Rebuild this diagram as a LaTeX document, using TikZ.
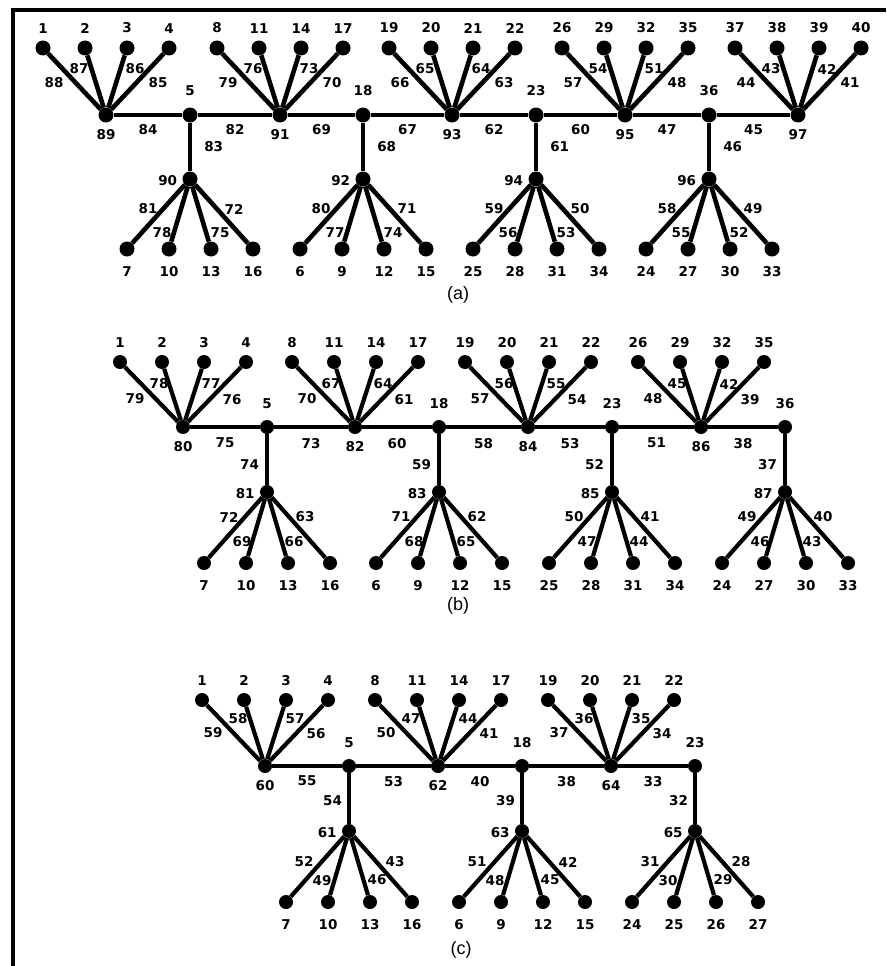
\documentclass[tikz,border=0pt]{standalone}
\usepackage{fontspec}
\setmainfont{Liberation Sans}
\newfontfamily\numfont{DejaVu Sans}
\usetikzlibrary{positioning}

\begin{document}
\begin{tikzpicture}[x=1pt, y=-1pt,
	  dot/.style={circle, fill=black, inner sep=0pt, minimum size=15pt},
	  edge/.style={line width=4.6pt},
	  num/.style={font=\numfont\bfseries\fontsize{13.5}{14}\selectfont, inner sep=0pt},
	  caption/.style={font=\fontsize{18}{19}\selectfont, inner sep=0pt},
	  tag n/.style={label={[num, label distance=7pt]above:#1}},
	  tag s/.style={label={[num, label distance=7pt]below:#1}},
	  tag j/.style={label={[num, label distance=11pt]above:#1}},
	  tag w/.style={label={[num, label distance=5pt, yshift=-2pt]left:#1}},
	  tag b/.style={label={[num, label distance=10pt]below:#1}}
	]

	\useasboundingbox (0,0) rectangle (886,966);
	\draw[line width=3.5pt] (13,966) |- (886,10);

	% (a)
	\foreach \h/\x/\la/\lb/\lc/\ld/\ea/\eb/\ec/\ed in {89/106/1/2/3/4/88/87/86/85, 91/280/8/11/14/17/79/76/73/70, 93/452/19/20/21/22/66/65/64/63, 95/625/26/29/32/35/57/54/51/48, 97/798/37/38/39/40/44/43/42/41}{
		\node[dot, tag s=\h] (a\h) at (\x,115) {};
		\foreach \dx/\l/\e/\ex/\ey in {-63/\la/\ea/-52/-32, -21/\lb/\eb/-27/-46, 21/\lc/\ec/29/-46, 63/\ld/\ed/52/-32}{
			\node[dot, tag n=\l] (a\l) at ({\x+(\dx)},48) {};
			\draw[edge] (a\h) -- (a\l);
			\node[num] (ae\e) at ({\x+(\ex)},{115+(\ey)}) {\e};
		}
	}
	\foreach \j/\h/\x/\la/\lb/\lc/\ld/\ea/\eb/\ec/\ed/\v in {5/90/190/7/10/13/16/81/78/75/72/83, 18/92/363/6/9/12/15/80/77/74/71/68, 23/94/536/25/28/31/34/59/56/53/50/61, 36/96/709/24/27/30/33/58/55/52/49/46}{
		\node[dot, tag j=\j] (a\j) at (\x,115) {};
		\node[dot, tag w=\h] (a\h) at (\x,179) {};
		\draw[edge] (a\j) -- node[num, right=12pt] (ae\v) {\v} (a\h);
		\foreach \dx/\l/\e/\ex/\ey in {-63/\la/\ea/-42/30, -21/\lb/\eb/-28/54, 21/\lc/\ec/30/54, 63/\ld/\ed/44/30}{
			\node[dot, tag b=\l] (a\l) at ({\x+(\dx)},249) {};
			\draw[edge] (a\h) -- (a\l);
			\node[num] (ae\e) at ({\x+(\ex)},{179+(\ey)}) {\e};
		}
	}
	\foreach \p/\q/\e in {89/5/84, 5/91/82, 91/18/69, 18/93/67, 93/23/62, 23/95/60, 95/36/47, 36/97/45}
		\draw[edge] (a\p) -- node[num, below=7pt] (ae\e) {\e} (a\q);
	\node[caption] (capa) at (458,295) {(a)};

	% (b)
	\begin{scope}[dot/.append style={minimum size=14pt}, edge/.append style={line width=4.2pt}]
	\foreach \h/\x/\la/\lb/\lc/\ld/\ea/\eb/\ec/\ed in {80/183/1/2/3/4/79/78/77/76, 82/355/8/11/14/17/70/67/64/61, 84/528/19/20/21/22/57/56/55/54, 86/701/26/29/32/35/48/45/42/39}{
		\node[dot, tag s=\h] (b\h) at (\x,427) {};
		\foreach \dx/\l/\e/\ex/\ey in {-63/\la/\ea/-48/-28, -21/\lb/\eb/-24/-43, 21/\lc/\ec/28/-43, 63/\ld/\ed/49/-27}{
			\node[dot, tag n=\l] (b\l) at ({\x+(\dx)},362) {};
			\draw[edge] (b\h) -- (b\l);
			\node[num] (be\e) at ({\x+(\ex)},{427+(\ey)}) {\e};
		}
	}
	\foreach \j/\h/\x/\la/\lb/\lc/\ld/\ea/\eb/\ec/\ed/\v in {5/81/267/7/10/13/16/72/69/66/63/74, 18/83/439/6/9/12/15/71/68/65/62/59, 23/85/612/25/28/31/34/50/47/44/41/52, 36/87/785/24/27/30/33/49/46/43/40/37}{
		\node[dot, tag j=\j] (b\j) at (\x,427) {};
		\node[dot, tag w=\h] (b\h) at (\x,492) {};
		\draw[edge] (b\j) -- node[num, pos=0.6, left=6pt] (be\v) {\v} (b\h);
		\foreach \dx/\l/\e/\ex/\ey in {-63/\la/\ea/-38/25, -21/\lb/\eb/-25/50, 21/\lc/\ec/27/50, 63/\ld/\ed/38/25}{
			\node[dot, tag b=\l] (b\l) at ({\x+(\dx)},563) {};
			\draw[edge] (b\h) -- (b\l);
			\node[num] (be\e) at ({\x+(\ex)},{492+(\ey)}) {\e};
		}
	}
	\foreach \p/\q/\e in {80/5/75, 5/82/73, 82/18/60, 18/84/58, 84/23/53, 23/86/51, 86/36/38}
		\draw[edge] (b\p) -- node[num, below=9pt] (be\e) {\e} (b\q);
	\node[caption] (capb) at (458,606) {(b)};

	% (c)
	\foreach \h/\x/\la/\lb/\lc/\ld/\ea/\eb/\ec/\ed in {60/265/1/2/3/4/59/58/57/56, 62/438/8/11/14/17/50/47/44/41, 64/611/19/20/21/22/37/36/35/34}{
		\node[dot, tag s=\h] (c\h) at (\x,766) {};
		\foreach \dx/\l/\e/\ex/\ey in {-63/\la/\ea/-52/-33, -21/\lb/\eb/-27/-47, 21/\lc/\ec/30/-47, 63/\ld/\ed/51/-32}{
			\node[dot, tag n=\l] (c\l) at ({\x+(\dx)},700) {};
			\draw[edge] (c\h) -- (c\l);
			\node[num] (ce\e) at ({\x+(\ex)},{766+(\ey)}) {\e};
		}
	}
	\foreach \j/\h/\x/\la/\lb/\lc/\ld/\ea/\eb/\ec/\ed/\v in {5/61/349/7/10/13/16/52/49/46/43/54, 18/63/522/6/9/12/15/51/48/45/42/39, 23/65/695/24/25/26/27/31/30/29/28/32}{
		\node[dot, tag j=\j] (c\j) at (\x,766) {};
		\node[dot, tag w=\h] (c\h) at (\x,831) {};
		\draw[edge] (c\j) -- node[num, pos=0.55, left=5pt] (ce\v) {\v} (c\h);
		\foreach \dx/\l/\e/\ex/\ey in {-63/\la/\ea/-45/31, -21/\lb/\eb/-27/50, 21/\lc/\ec/28/49, 63/\ld/\ed/46/31}{
			\node[dot, tag b=\l] (c\l) at ({\x+(\dx)},902) {};
			\draw[edge] (c\h) -- (c\l);
			\node[num] (ce\e) at ({\x+(\ex)},{831+(\ey)}) {\e};
		}
	}
	\foreach \p/\q/\e in {60/5/55, 5/62/53, 62/18/40, 18/64/38, 64/23/33}
		\draw[edge] (c\p) -- node[num, below=8pt] (ce\e) {\e} (c\q);
	\node[caption] (capc) at (461,950) {(c)};
	\end{scope}

\end{tikzpicture}
\end{document}
